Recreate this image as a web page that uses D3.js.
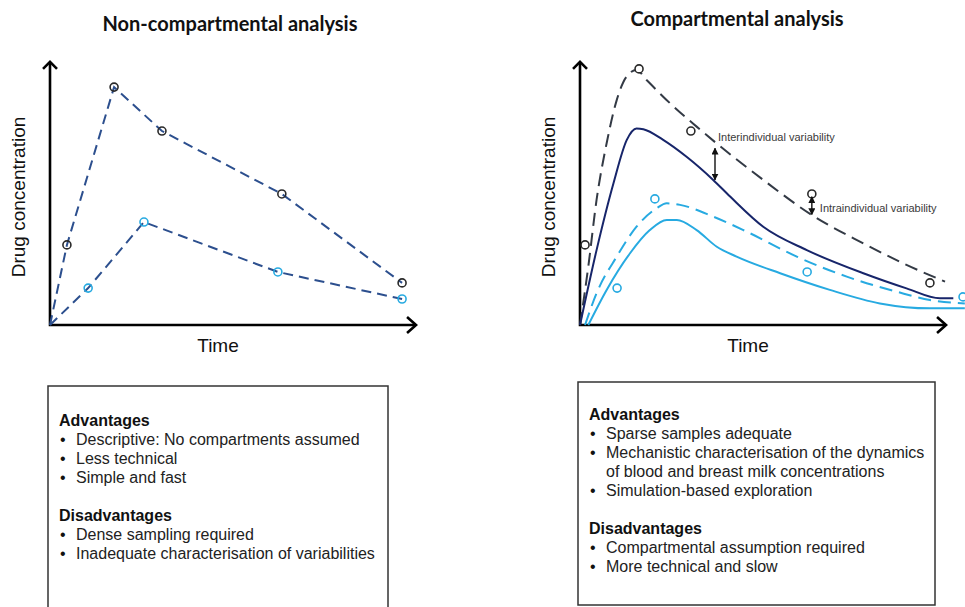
<!DOCTYPE html>
<html>
<head>
<meta charset="utf-8">
<script src="https://cdn.jsdelivr.net/npm/d3@7"></script>
<style>
body { margin: 0; background: #fff; }
text { font-family: "Liberation Sans", Arial, sans-serif; }
.title { font-family: Lato, "Open Sans", sans-serif; font-weight: bold; }
</style>
</head>
<body>
<svg id="fig" width="965" height="607"></svg>
<script>
// ---- data (time and concentration in arbitrary units 0..100) ----
// Non-compartmental panel: observed samples
var ncaBloodTime = [4.7, 17.8, 31.1, 64.4, 97.8];
var ncaBloodConc = [30.8, 91.5, 74.6, 50.4, 16.2];
var ncaMilkTime  = [10.6, 26.1, 63.3, 97.8];
var ncaMilkConc  = [14.2, 39.6, 20.4, 10.0];

// Compartmental panel: observed samples
var cmBloodTime = [1.4, 16.4, 30.8, 64.4, 97.2];
var cmBloodConc = [30.8, 98.5, 74.6, 50.4, 16.2];
var cmMilkTime  = [10.3, 20.8, 63.1, 106.4];
var cmMilkConc  = [14.2, 48.5, 20.4, 10.8];

// Compartmental panel: model curves
var indBloodTime = [0, 2.3, 4.6, 7.4, 10.2, 12.9, 15.7, 18.5, 25, 32.4, 37.9, 50.9, 64.4, 78.7, 89.8, 101.4];
var indBloodConc = [0, 22.4, 48.1, 69.9, 86.5, 95.5, 98.1, 94.2, 85.3, 76.3, 69.9, 55.8, 42.3, 31.4, 23.7, 16.7];
var popBloodTime = [0, 4.6, 9.3, 13, 15.7, 17.6, 23.1, 29.6, 37, 41.7, 50.9, 63, 78.7, 90.7, 100, 103.7];
var popBloodConc = [0, 28.8, 54.5, 71.2, 75.6, 75.3, 71.2, 64.7, 55.8, 49.4, 37.8, 28.8, 19.9, 14.1, 10.3, 10.3];
var indMilkTime  = [1.4, 4.6, 10.2, 15.7, 21.3, 24.1, 27.8, 37, 46.3, 60.2, 74.1, 88, 97.2, 106.9];
var indMilkConc  = [0, 12.2, 26.3, 37.8, 44.9, 46.8, 46.2, 41.7, 35.9, 26.3, 18.6, 12.8, 9.6, 8.3];
var popMilkTime  = [2.3, 7.4, 13.9, 19.4, 24.1, 26.9, 32.4, 38, 43.5, 55.6, 69.4, 83.3, 97.2, 106.9];
var popMilkConc  = [0, 13.5, 27.6, 36.5, 40.4, 40.4, 36.5, 30.1, 26.3, 19.9, 13.5, 8.3, 6.4, 6.4];

// variability arrows: time, upper conc, lower conc
var varLabels = ["Interindividual variability", "Intraindividual variability"];
var varTime   = [37.5, 64.4];
var varUpper  = [68, 49.3];
var varLower  = [55.8, 42.5];

var titles = ["Non-compartmental analysis", "Compartmental analysis"];
var ncaAdv    = ["Descriptive: No compartments assumed", "Less technical", "Simple and fast"];
var ncaDisadv = ["Dense sampling required", "Inadequate characterisation of variabilities"];
var cmAdv     = ["Sparse samples adequate", ["Mechanistic characterisation of the dynamics", "of blood and breast milk concentrations"], "Simulation-based exploration"];
var cmDisadv  = ["Compartmental assumption required", "More technical and slow"];

var svg = d3.select("#fig");

var defs = svg.append("defs");
defs.append("marker").attr("id", "tri")
    .attr("viewBox", "0 0 10 10").attr("refX", 9).attr("refY", 5)
    .attr("markerWidth", 5).attr("markerHeight", 5)
    .attr("orient", "auto-start-reverse")
    .append("path").attr("d", "M0,0L10,5L0,10Z").attr("fill", "#111");

function zip(t, c) { return t.map(function(d, i) { return [d, c[i]]; }); }

// draws axes, labels and returns scales for a panel
function panel(x0, titleX, titleY, title) {
    var x = d3.scaleLinear().domain([0, 100]).range([x0, x0 + 360]);
    var y = d3.scaleLinear().domain([0, 100]).range([325, 65]);
    var g = svg.append("g");
    var tx = x(101.4), ty = y(100.8);
    g.append("path")
        .attr("d", "M" + x(0) + "," + ty + "L" + x(0) + "," + y(0) + "L" + tx + "," + y(0))
        .attr("fill", "none").attr("stroke", "#000").attr("stroke-width", 2.6);
    // chevron arrow heads
    g.append("path")
        .attr("d", "M" + (x(0) - 7) + "," + (ty + 6) + "L" + x(0) + "," + (ty - 1) + "L" + (x(0) + 7) + "," + (ty + 6))
        .attr("fill", "none").attr("stroke", "#000").attr("stroke-width", 2.6);
    g.append("path")
        .attr("d", "M" + (tx - 8) + "," + (y(0) - 8) + "L" + (tx + 1) + "," + y(0) + "L" + (tx - 8) + "," + (y(0) + 8))
        .attr("fill", "none").attr("stroke", "#000").attr("stroke-width", 2.6);

    g.append("text").attr("transform", "translate(" + (x0 - 25) + ",197) rotate(-90)")
        .attr("text-anchor", "middle").attr("font-size", 19).attr("fill", "#111")
        .text("Drug concentration");
    g.append("text").attr("x", x0 + 168).attr("y", 352)
        .attr("text-anchor", "middle").attr("font-size", 19).attr("fill", "#111")
        .text("Time");
    svg.append("text").attr("class", "title").attr("x", titleX).attr("y", titleY)
        .attr("text-anchor", "middle").attr("font-size", 20).attr("fill", "#111")
        .text(title);
    return {x: x, y: y, g: g};
}

function drawLine(p, data, color, dash, curve) {
    var line = d3.line().x(function(d) { return p.x(d[0]); }).y(function(d) { return p.y(d[1]); })
        .curve(curve || d3.curveLinear);
    p.g.append("path").datum(data)
        .attr("d", line).attr("fill", "none").attr("stroke", color)
        .attr("stroke-width", 2).attr("stroke-dasharray", dash);
}

function drawPoints(p, data, color, fillOpacity) {
    p.g.selectAll(null).data(data).enter().append("circle")
        .attr("cx", function(d) { return p.x(d[0]); })
        .attr("cy", function(d) { return p.y(d[1]); })
        .attr("r", 4).attr("fill", "#fff").attr("fill-opacity", fillOpacity)
        .attr("stroke", color).attr("stroke-width", 1.6);
}

// ---- left panel ----
var L = panel(50, 230, 31, titles[0]);
drawLine(L, [[0, 0]].concat(zip(ncaBloodTime, ncaBloodConc)), "#2c4f8e", "10,6");
drawLine(L, [[0, 0]].concat(zip(ncaMilkTime, ncaMilkConc)), "#2c4f8e", "10,6");
drawPoints(L, zip(ncaBloodTime, ncaBloodConc), "#2a2a2a", 0);
drawPoints(L, zip(ncaMilkTime, ncaMilkConc), "#27aae1", 0);

// ---- right panel ----
var R = panel(580, 737, 26, titles[1]);
drawLine(R, zip(indBloodTime, indBloodConc), "#333a45", "13,7", d3.curveMonotoneX);
drawLine(R, zip(popBloodTime, popBloodConc), "#17256a", null, d3.curveMonotoneX);
drawLine(R, zip(indMilkTime, indMilkConc), "#27aae1", "13,7", d3.curveMonotoneX);
drawLine(R, zip(popMilkTime, popMilkConc), "#27aae1", null, d3.curveMonotoneX);
drawPoints(R, zip(cmBloodTime, cmBloodConc), "#2a2a2a", 1);
drawPoints(R, zip(cmMilkTime, cmMilkConc), "#27aae1", 1);

varTime.forEach(function(t, i) {
    R.g.append("line")
        .attr("x1", R.x(t)).attr("x2", R.x(t))
        .attr("y1", R.y(varUpper[i])).attr("y2", R.y(varLower[i]))
        .attr("stroke", "#111").attr("stroke-width", 1.4)
        .attr("marker-start", "url(#tri)").attr("marker-end", "url(#tri)");
});
R.g.append("text").attr("x", R.x(varTime[0]) + 3).attr("y", 141)
    .attr("font-size", 11).attr("fill", "#3a3a3a").text(varLabels[0]);
R.g.append("text").attr("x", R.x(varTime[1]) + 8).attr("y", 212)
    .attr("font-size", 11).attr("fill", "#3a3a3a").text(varLabels[1]);

// ---- text boxes ----
function textBox(x, y, w, h, adv, disadv, headY) {
    var g = svg.append("g");
    g.append("rect").attr("x", x).attr("y", y).attr("width", w).attr("height", h)
        .attr("fill", "none").attr("stroke", "#333").attr("stroke-width", 1.5);
    var rows = [];
    rows.push({t: "Advantages", bold: true});
    adv.forEach(function(a) {
        if (Array.isArray(a)) a.forEach(function(s, k) { rows.push({t: s, bullet: k === 0}); });
        else rows.push({t: a, bullet: true});
    });
    rows.push({t: "", gap: true});
    rows.push({t: "Disadvantages", bold: true});
    disadv.forEach(function(a) { rows.push({t: a, bullet: true}); });
    rows.forEach(function(r, i) {
        var by = headY + i * 19;
        if (r.gap) return;
        if (r.bold) {
            g.append("text").attr("x", x + 11).attr("y", by).attr("font-size", 16)
                .attr("font-weight", "bold").attr("fill", "#111").text(r.t);
        } else {
            if (r.bullet) g.append("text").attr("x", x + 12).attr("y", by).attr("font-size", 16)
                .attr("fill", "#111").text("\u2022");
            g.append("text").attr("x", x + 28).attr("y", by).attr("font-size", 16)
                .attr("fill", "#222").text(r.t);
        }
    });
}
textBox(48, 386, 340, 240, ncaAdv, ncaDisadv, 426);
textBox(578, 382, 357, 223, cmAdv, cmDisadv, 420);
</script>
</body>
</html>
